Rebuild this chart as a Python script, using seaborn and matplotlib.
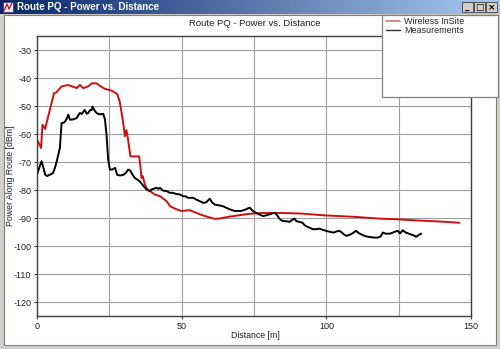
import numpy as np
import pandas as pd
import matplotlib
matplotlib.use("Agg")
import matplotlib.pyplot as plt
from matplotlib.patches import Rectangle
from matplotlib.lines import Line2D
from matplotlib.colors import LinearSegmentedColormap
import seaborn as sns

# ---------------- data ----------------
insite_dist = [0, 1.4, 1.9, 2.8, 3.3, 5.9, 6.6, 8.5, 10.8, 12.0, 12.8, 13.7, 14.8, 16.0,
               17.7, 18.9, 20.6, 21.7, 23.5, 25.8, 27.7, 28.6, 29.5, 30.4, 30.9, 31.4,
               32.3, 35.3, 35.8, 36.1, 36.5, 37.3, 38.1, 39.0, 40.7, 42.5, 44.8, 46.0,
               48.0, 49.9, 52.8, 56.3, 59.0, 61.4, 63.0, 66.6, 70.0, 73.5, 78, 84, 91,
               100, 110, 118, 125, 132, 140, 146]
insite_power = [-62.0, -65.0, -56.7, -58.2, -56.1, -45.4, -45.2, -43.0, -42.5, -43.0,
                -43.2, -43.6, -42.5, -43.6, -43.0, -41.9, -41.9, -42.8, -43.9, -44.5,
                -45.7, -48.4, -54.0, -60.8, -58.6, -61.5, -68.0, -68.0, -72.0, -75.7,
                -75.0, -78.0, -79.8, -80.4, -81.6, -82.2, -84.0, -85.8, -86.8, -87.5,
                -87.2, -88.7, -89.6, -90.3, -90.2, -89.5, -89.0, -88.5, -88.2, -88.2,
                -88.4, -89.1, -89.6, -90.2, -90.5, -90.9, -91.3, -91.7]

meas_dist = [0, 0.8, 1.6, 2.2, 2.8, 3.5, 4.5, 5.5, 6.2, 7.0, 7.9, 8.5, 9.2, 9.7, 10.3,
             10.8, 11.4, 12.5, 13.7, 14.8, 15.5, 16.5, 17.2, 17.7, 18.3, 18.9, 19.2,
             19.8, 20.6, 21.5, 22.9, 23.5, 24.0, 24.6, 25.2, 26.0, 27.0, 27.7, 28.8,
             29.8, 30.8, 31.5, 32.2, 33.0, 33.8, 35.0, 35.5, 36.5, 37.3, 37.9, 39.0,
             39.6, 40.5, 41.3, 42.0, 42.5, 43.5, 44.8, 45.9, 47.0, 48.0, 49.4, 50.5,
             51.5, 52.2, 54.0, 55.0, 56.3, 57.5, 58.5, 59.7, 60.5, 61.4, 63.0, 64.3,
             65.5, 66.6, 68.3, 70.5, 72.0, 73.5, 74.5, 75.3, 76.5, 78.1, 79.5, 80.3,
             82.2, 83.2, 84.0, 85.0, 86.5, 87.3, 88.0, 89.0, 89.6, 91.0, 91.8, 92.5,
             94.0, 95.4, 96.5, 97.7, 99.0, 100.0, 101.5, 102.5, 103.5, 104.6, 105.8,
             106.9, 108.5, 110.3, 111.2, 112.0, 113.5, 115.0, 116.5, 117.8, 118.8,
             119.5, 120.5, 122.0, 123.0, 123.6, 124.7, 125.5, 126.4, 127.5, 129.0,
             129.9, 131.1, 132.0, 132.8]
meas_power = [-74.5, -72.0, -69.7, -72.0, -74.5, -75.0, -74.5, -74.0, -72.1, -69.0,
              -65.0, -56.1, -56.0, -55.5, -54.5, -53.1, -54.9, -54.8, -54.3, -52.5,
              -52.8, -51.4, -52.8, -52.5, -51.5, -51.4, -50.2, -51.5, -52.5, -53.0,
              -52.8, -54.9, -60.0, -69.1, -72.7, -72.7, -72.1, -74.6, -74.8, -74.6,
              -73.8, -72.7, -73.0, -74.5, -75.7, -76.5, -76.9, -78.2, -79.2, -79.8,
              -80.4, -79.8, -79.5, -79.2, -79.6, -79.2, -80.2, -80.4, -81.0, -81.0,
              -81.4, -81.6, -82.2, -82.3, -82.8, -82.8, -83.4, -84.0, -84.6, -84.4,
              -83.1, -84.4, -85.2, -85.5, -85.8, -86.4, -86.9, -87.5, -87.5, -87.0,
              -86.3, -87.4, -87.9, -88.6, -89.3, -89.0, -88.7, -88.1, -89.3, -90.5,
              -91.1, -91.2, -91.4, -90.8, -90.2, -91.1, -91.5, -91.7, -92.6, -93.4,
              -94.0, -94.0, -93.8, -94.3, -94.6, -95.0, -95.2, -94.8, -94.6, -95.6,
              -96.4, -95.8, -94.6, -95.4, -95.8, -96.5, -96.8, -97.0, -97.0, -96.6,
              -95.2, -95.6, -95.6, -95.2, -94.9, -94.6, -95.5, -94.4, -95.2, -95.8,
              -96.1, -96.7, -96.0, -95.6]

series_names = ["Wireless InSite", "Measurements"]
x_ticks = [0, 50, 100, 150]
y_ticks = [-30, -40, -50, -60, -70, -80, -90, -100, -110, -120]

df = pd.concat([
    pd.DataFrame({"Distance": insite_dist, "Power": insite_power, "Source": series_names[0]}),
    pd.DataFrame({"Distance": meas_dist, "Power": meas_power, "Source": series_names[1]}),
], ignore_index=True)

# ---------------- figure ----------------
sns.set_theme(style="white")
plt.rcParams["font.family"] = ["Liberation Sans", "DejaVu Sans"]

W, H = 500, 349
fig = plt.figure(figsize=(W / 100, H / 100), dpi=100)
fig.patch.set_facecolor("#d4d0c8")

def fx(x):
    return x / W

def fy(y):
    return 1 - y / H

def rect_px(x0, y0, x1, y1, **kw):
    r = Rectangle((fx(x0), fy(y1)), fx(x1) - fx(x0), fy(y0) - fy(y1),
                  transform=fig.transFigure, **kw)
    fig.patches.append(r)
    return r

# inner white client area (behind the axes)
rect_px(4, 15, 496, 345, facecolor="white", edgecolor="#808080", linewidth=0.8, zorder=-5)

# title bar gradient
tb = fig.add_axes([fx(0), fy(14), 1, fy(0) - fy(14)])
grad = np.linspace(0, 1, 256).reshape(1, -1)
cmap = LinearSegmentedColormap.from_list("tb", ["#0a246a", "#a6caf0"])
tb.imshow(grad, aspect="auto", cmap=cmap, extent=[0, 1, 0, 1])
tb.set_axis_off()
tb.set_zorder(1)
fig.text(fx(17), fy(7.5), "Route PQ - Power vs. Distance", color="white",
         fontsize=7, fontweight="bold", va="center", ha="left", zorder=4)
# small icon
rect_px(3, 2, 13, 12, facecolor="#e8e8f8", edgecolor="#404080", linewidth=0.6, zorder=3)
fig.lines.append(Line2D([fx(4), fx(7), fx(9), fx(12)], [fy(11), fy(4), fy(9), fy(3)],
                        transform=fig.transFigure, color="#c00000", lw=0.8, zorder=4))

# window buttons
for i, glyph in enumerate(["_", "\u25a1", "\u00d7"]):
    x0 = 462 + i * 12
    rect_px(x0, 2, x0 + 11, 12, facecolor="#d4d0c8", edgecolor="#404040",
            linewidth=0.6, zorder=3)
    fig.text(fx(x0 + 5.5), fy(7.3), glyph, fontsize=6.5, fontweight="bold",
             ha="center", va="center", color="black", zorder=4,
             family=["DejaVu Sans"])

# main axes
ax = fig.add_axes([fx(37), fy(316), fx(471) - fx(37), fy(36) - fy(316)])
ax.set_zorder(1)
ax.set_facecolor("white")
sns.lineplot(data=df, x="Distance", y="Power", hue="Source",
             palette={series_names[0]: "#cc1010", series_names[1]: "#000000"},
             estimator=None, sort=False, linewidth=1.4, ax=ax, legend=False)

ax.set_xlim(0, 150)
ax.set_ylim(-125, -25)
ax.set_xticks(x_ticks)
ax.set_xticks([25, 75, 125], minor=True)
ax.set_yticks(y_ticks)
ax.set_xticklabels([str(t) for t in x_ticks])
ax.set_yticklabels([str(t) for t in y_ticks])
ax.grid(True, which="both", axis="x", color="#a0a0a0", linewidth=0.8)
ax.grid(True, which="major", axis="y", color="#a0a0a0", linewidth=0.8)
ax.set_axisbelow(True)
ax.tick_params(axis="both", which="major", labelsize=6.5, length=2, width=0.8,
               color="#404040", pad=2, labelcolor="#202020", left=True, bottom=True)
ax.tick_params(axis="x", which="minor", length=0)
for s in ax.spines.values():
    s.set_color("#404040")
    s.set_linewidth(1.0)
ax.set_xlabel("")
ax.set_ylabel("")

fig.text(fx(11), fy(176), "Power Along Route [dBm]", rotation=90, fontsize=6.3,
         ha="center", va="center", color="#202020")
fig.text(fx(255), fy(336), "Distance [m]", fontsize=6.3, ha="center", va="center",
         color="#202020")
fig.text(fx(255), fy(23), "Route PQ - Power vs. Distance", fontsize=6.8,
         ha="center", va="center", color="#202020")

# legend box (drawn above the axes, as in the reference)
rect_px(382, 15, 498, 97, facecolor="white", edgecolor="#808080", linewidth=0.9, zorder=5)
handles = [Line2D([], [], color="#e07080", lw=1.2),
           Line2D([], [], color="#303030", lw=1.0)]
leg = fig.legend(handles, series_names, loc="upper left",
                 bbox_to_anchor=(fx(384), fy(15)), frameon=False,
                 fontsize=6.5, handlelength=1.6, handletextpad=0.45,
                 labelspacing=0.0, borderaxespad=0, borderpad=0.2)
leg.set_zorder(6)

fig.savefig("out.png", dpi=100, facecolor=fig.get_facecolor())
